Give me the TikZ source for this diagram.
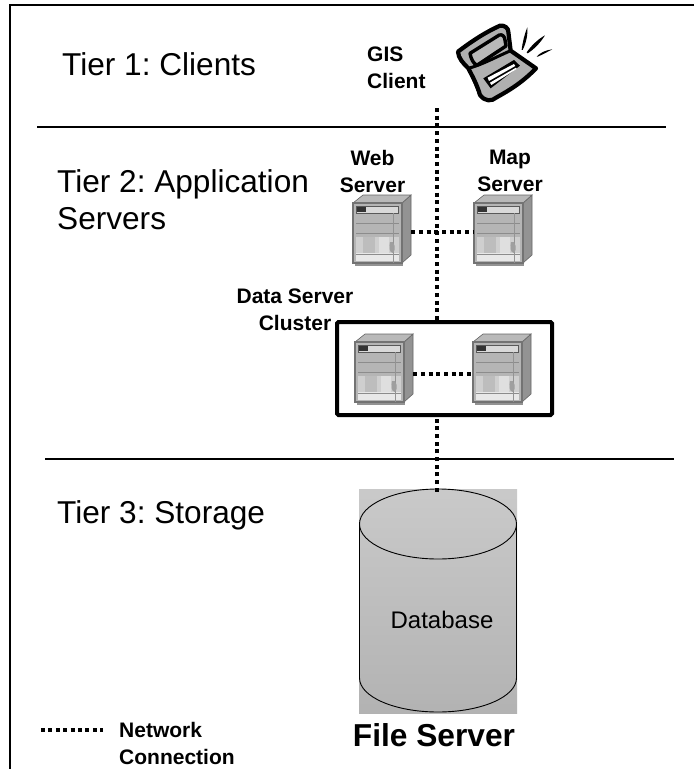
\documentclass[tikz,border=0pt]{standalone}
\usepackage{fontspec}
\setmainfont{Liberation Sans}
\usetikzlibrary{positioning,calc}

\newcommand{\bigfont}{\fontsize{31.6}{37}\selectfont\frenchspacing}
\newcommand{\labfont}{\fontsize{21}{27}\selectfont\bfseries}

\tikzset{
	netline/.style={line width=4pt,dash pattern=on 4pt off 3.7pt},
	divider/.style={line width=2.6pt,black},
	tierlabel/.style={font=\bigfont,align=left,anchor=base west,inner sep=0},
	boldlabel/.style={font=\labfont,align=center,inner sep=0},
	server/.pic={
		\fill[gray!85] (2,60) rectangle (50,62.5);
		\fill[gray!85,draw=gray!80!black,line width=.6pt] (49,0) -- (58,-8) -- (58,52) -- (49,60) -- cycle;
		\fill[gray!55,draw=gray!80!black,line width=.6pt] (0,0) -- (10,-8) -- (58,-8) -- (49,0) -- cycle;
		\fill[gray!58,draw=gray!90!black,line width=1.2pt] (0,0) rectangle (49,60);
		\fill[gray!38] (3,34) rectangle (46,50);
		\fill[gray!52] (10,34) rectangle (22,50);
		\fill[gray!25] (26,34) rectangle (36,50);
		\fill[gray!18] (3,50) rectangle (46,58);
		\fill[gray!30] (3,3) rectangle (45,10);
		\draw[gray!70!black,line width=.8pt] (3,3) rectangle (45,10);
		\fill[black!80] (4,4) rectangle (13,9);
		\draw[gray!90,line width=.7pt] (3,20) -- (46,20);
		\draw[gray!90,line width=.7pt] (3,30) -- (46,30);
		\draw[gray!90,line width=.7pt] (3,51) -- (46,51);
		\draw[gray!85,line width=1pt] (40,10) -- (40,60);
		\fill[gray!75] (37,39) .. controls (42,36) and (43,48) .. (40,50) .. controls (36,50) and (36,43) .. (37,39);
		\node[inner sep=0,minimum width=58pt,minimum height=58pt] (-box) at (29,29) {};
	},
}

\begin{document}
\begin{tikzpicture}[x=1pt,y=-1pt]
	\useasboundingbox (0,0) rectangle (694,769);
	\fill[white] (0,0) rectangle (694,769);

	\draw[line width=2.4pt] (694,5) -- (10,5) -- (10,769);
	\draw[divider] (37,127) -- (666,127);
	\draw[divider] (45,459) -- (674,459);

	\node[tierlabel] (tierone) at (62,75) {Tier 1: Clients};
	\node[tierlabel] (tiertwo) at (57,229) {Tier 2: Application\\Servers};
	\node[tierlabel] (tierthree) at (57,523) {Tier 3: Storage};

	% laptop
	\begin{scope}[shift={(340,0)},x=.3333pt,y=-.3333pt]
		\draw[black,fill=gray!62,line width=4.2pt,line join=round] (354,155) .. controls (400,120) and (440,95) .. (480,77) .. controls (495,75) and (505,85) .. (505,95) -- (512,152) -- (588,205) .. controls (550,245) and (510,270) .. (470,292) .. controls (455,305) and (435,305) .. (420,285) .. controls (410,250) and (395,225) .. (385,205) .. controls (370,190) and (355,175) .. (354,155) -- cycle;
		\draw[black,fill=gray!55,line width=3.4pt,line join=round] (390,160) -- (478,105) .. controls (488,102) and (494,110) .. (495,120) -- (498,138) -- (412,195) .. controls (402,195) and (392,175) .. (390,160) -- cycle;
		\draw[black,line width=3pt] (385,205) .. controls (425,195) and (470,170) .. (512,152);
		\fill[black] (430,235) -- (522,180) -- (540,197) -- (452,265) -- cycle;
		\fill[white] (443,233) -- (522,192) -- (526,198) -- (447,243) -- cycle;
		\fill[white] (450,248) -- (528,203) -- (530,207) -- (454,255) -- cycle;
		\fill[black] (545,150) .. controls (548,125) and (553,105) .. (562,82) .. controls (564,105) and (558,130) .. (548,150) -- cycle;
		\fill[black] (560,157) .. controls (572,140) and (590,120) .. (615,106) .. controls (600,130) and (582,148) .. (563,160) -- cycle;
		\fill[black] (590,170) .. controls (600,158) and (618,150) .. (637,148) .. controls (622,156) and (607,164) .. (593,170) -- cycle;
		\draw[black,line width=3pt] (388,210) .. controls (400,235) and (410,260) .. (420,285);
	\end{scope}
	\coordinate (gistop) at (437,108);

	\node[boldlabel,align=left,anchor=north west] (gislabel) at (367,47) {GIS\\Client};
	\node[boldlabel] (weblabel) at (372.5,171) {Web\\Server};
	\node[boldlabel] (maplabel) at (510,171) {Map\\Server};
	\node[boldlabel] (clusterlabel) at (295,310) {Data Server\\Cluster};

	\pic (web) at (353,203) {server};
	\pic (map) at (474,203) {server};
	\pic (dataa) at (355,342) {server};
	\pic (datab) at (473,342) {server};

	\node[draw,line width=4pt,rounded corners=1.5pt,inner sep=0,minimum width=215pt,minimum height=93pt] (cluster) at (444.5,368.5) {};

	% database
	\node[inner sep=0,minimum width=158pt,minimum height=224pt,left color=gray!42,right color=gray!60,shading angle=0] (db) at (438,601) {};
	\draw[line width=.9pt] (359.5,524) arc[start angle=180,end angle=-180,x radius=78.5,y radius=-35];
	\draw[line width=.9pt] (359.5,524) -- (359.5,678) arc[start angle=180,end angle=360,x radius=78.5,y radius=-34] -- (516.5,524);
	\node[font=\fontsize{24}{28}\selectfont,inner sep=0] (dblabel) at (442,620) {Database};
	\node[font=\fontsize{31.7}{37}\selectfont\bfseries,inner sep=0,anchor=base] (fileserver) at (434,746) {File Server};

	% connections
	\draw[netline] (gistop) -- (gistop |- cluster.north);
	\draw[netline] (web-box.east) -- (map-box.west);
	\draw[netline] ([yshift=-3pt]dataa-box.east) -- ([yshift=-3pt]datab-box.west);
	\draw[netline] (db.north -| gistop) ++(0,3) -- (gistop |- cluster.south);

	% legend
	\coordinate (lega) at (41,730);
	\coordinate (legb) at (103,730);
	\draw[line width=3.6pt,dash pattern=on 4pt off 3.4pt] (lega) -- (legb);
	\node[boldlabel,align=left,anchor=base west] (leglabel) at (119,764) {Network\\Connection};
\end{tikzpicture}
\end{document}
